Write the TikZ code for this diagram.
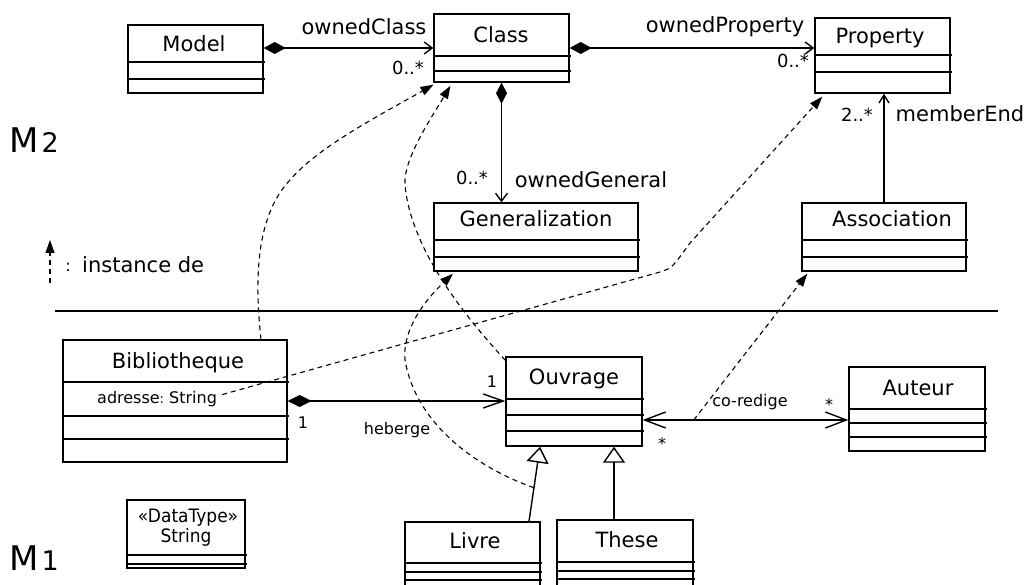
\documentclass[tikz,border=0pt]{standalone}
\usepackage{fontspec}
\setmainfont{DejaVu Sans}
\usepackage{graphicx}
\usetikzlibrary{arrows.meta,calc,fit}
\tikzset{
  box/.style={draw, line width=1.4pt, inner sep=0pt},
  cname/.style={font=\fontsize{21}{25}\selectfont, inner sep=0pt, anchor=base},
  small/.style={font=\fontsize{16}{19}\selectfont, inner sep=0pt, anchor=base},
  mult/.style={font=\fontsize{18}{21}\selectfont, inner sep=0pt, anchor=base},
  dtype/.style={font=\fontsize{18.5}{22}\selectfont, inner sep=0pt, anchor=base},
  sep/.style={line width=1.4pt},
  assoc/.style={line width=1.4pt},
  smallcomp/.style={assoc, {Diamond[length=22pt,width=12pt]}-{Straight Barb[length=8pt,width=12pt]}},
  inst/.style={line width=1.1pt, dash pattern=on 5pt off 4pt, -{Triangle[length=13pt,width=9pt]}},
  gen/.style={assoc, -{Triangle[open,length=16pt,width=22pt]}},
}
\newcommand{\umlbox}[6]{%
  \node[box, fit={(#2,#3) (#4,#5)}] (#1) {};
  \foreach \yy in {#6} {\draw[sep] (#2,\yy) -- ({#4+2},\yy);}
}
\begin{document}
\begin{tikzpicture}[x=1pt,y=-1pt]
\useasboundingbox (0,0) rectangle (1028,585);

% ---------- M2 ----------
\umlbox{Model}{128}{25}{263}{93}{62,79}
\node[cname] (tModel) at (194,52) {Model};
\umlbox{Class}{434}{14}{569}{82}{56,71}
\node[cname] (tClass) at (501,43) {Class};
\umlbox{Property}{815}{18}{950}{93}{55,72}
\node[cname] (tProperty) at (880,44) {Property};
\umlbox{Generalization}{434}{203}{638}{271}{240,257}
\node[cname] (tGeneralization) at (536,227) {Generalization};
\umlbox{Association}{802}{203}{966}{271}{240,257}
\node[cname] (tAssociation) at (892,227) {Association};

\draw[smallcomp] (Model.east |- Class.west) -- (Class.west);
\node[cname] (lOwnedClass) at (364,35) {ownedClass};
\node[mult] (mClass) at (408,75) {0..*};

\draw[smallcomp] (Class.east) -- (Class.east -| Property.west);
\node[cname] (lOwnedProperty) at (725,33) {ownedProperty};
\node[mult] (mProperty) at (793,68) {0..*};

\draw[assoc, {Diamond[length=21pt,width=11pt]}-{Straight Barb[length=8pt,width=12pt]}] (Class.south) -- (Class.south |- Generalization.north);
\node[mult] (mGen) at (472,185) {0..*};
\node[cname] (lOwnedGeneral) at (591,188) {ownedGeneral};

\draw[assoc, -{Straight Barb[length=8pt,width=10pt]}] (Association.north) -- (Association.north |- Property.south);
\node[mult] (mMember) at (857,122) {2..*};
\node[cname] (lMemberEnd) at (960,122) {memberEnd};

\node[font=\fontsize{34}{40}\selectfont, inner sep=0pt, anchor=base west] (M2) at (9,153) {M\fontsize{27}{32}\selectfont\hspace{3pt}2};

% legend
\coordinate (lg0) at (50,283);
\coordinate (lg1) at (50,240);
\draw[inst] (lg0) -- (lg1);
\node[font=\fontsize{16}{19}\selectfont, inner sep=0pt, anchor=base] (lgColon) at (68,272) {:};
\node[cname, anchor=base west] (lgText) at (82,273) {instance de};

% separator
\draw[line width=1.4pt] (55,311) -- (998,311);

% ---------- M1 ----------
\umlbox{Bibliotheque}{63}{340}{287}{462}{382,416,439}
\node[cname] (tBibliotheque) at (178,368) {Bibliotheque};
\node[small, anchor=base west] (adr) at (97,403) {adresse\fontsize{13}{15}\selectfont:\fontsize{16}{19}\selectfont\ String};

\umlbox{Ouvrage}{506}{357}{642}{446}{399,415,431}
\node[cname] (tOuvrage) at (574,384) {Ouvrage};
\umlbox{Auteur}{849}{367}{985}{451}{409,423,437}
\node[cname] (tAuteur) at (918,395) {Auteur};
\umlbox{Livre}{405}{522}{540}{592}{563,572,580}
\node[cname] (tLivre) at (475,548) {Livre};
\umlbox{These}{557}{520}{693}{592}{562,571,579}
\node[cname] (tThese) at (627,547) {These};
\umlbox{String}{127}{500}{245}{568}{555,564}
\node[dtype] (tDT) at (188,522) {\scalebox{0.92}[1]{«DataType»}};
\node[dtype] (tString) at (186,542) {\scalebox{0.92}[1]{String}};

\node[font=\fontsize{34}{40}\selectfont, inner sep=0pt, anchor=base west] (M1) at (9,570) {M\fontsize{27}{32}\selectfont\hspace{3pt}1};

% heberge
\draw[assoc, {Diamond[length=24pt,width=12pt]}-{Straight Barb[length=20pt,width=14pt]}] (Bibliotheque.east) -- (Bibliotheque.east -| Ouvrage.west);
\node[small] (m1a) at (303,428) {1};
\node[small] (m1b) at (492,387) {1};
\node[small] (lHeberge) at (397,434) {heberge};

% co-redige
\coordinate (oe) at ($(Ouvrage.east)+(0,18.5)$);
\draw[assoc, {Straight Barb[length=21pt,width=16pt]}-{Straight Barb[length=21pt,width=16pt]}] (oe) -- (oe -| Auteur.west);
\node[small] (lCoredige) at (750,406) {co-redige};
\node[small] (mStarA) at (829,410) {*};
\node[small] (mStarO) at (662,449) {*};

% generalizations
\coordinate (lvtop) at ($(Livre.north)+(56.5,0)$);
\coordinate (ovbot) at ($(Ouvrage.south)+(-34,0)$);
\draw[gen] (lvtop) -- (ovbot);
\coordinate (thtop) at ($(These.north)+(-11,0)$);
\draw[gen] (thtop) -- (thtop |- Ouvrage.south);

% instance-of links
\draw[inst] ($(Bibliotheque.north)+(86,0)$) .. controls (254,275) and (257,215) .. (290,180)
  .. controls (318,147) and (380,115) .. ($(Class.south)+(-68,2)$);
\draw[inst] ($(Ouvrage.north west)+(0,4)$) .. controls (450,300) and (410,240) .. (405,185)
  .. controls (403,160) and (430,120) .. ($(Class.south)+(-51,3)$);
\draw[inst] ($(lvtop)!0.45!(ovbot)$) .. controls (470,465) and (415,420) .. (405,360)
  .. controls (402,330) and (425,300) .. ($(Generalization.south)+(-83,2)$);
\draw[inst] ($(adr.east)+(5,-4)$) -- (660,272) .. controls (672,268) .. (690,243) -- ($(Property.south west)+(8,3)$);
\coordinate (cr) at ($(oe)+(51,0)$);
\draw[inst] (cr) -- ($(Association.south west)+(6,2)$);
\end{tikzpicture}
\end{document}
